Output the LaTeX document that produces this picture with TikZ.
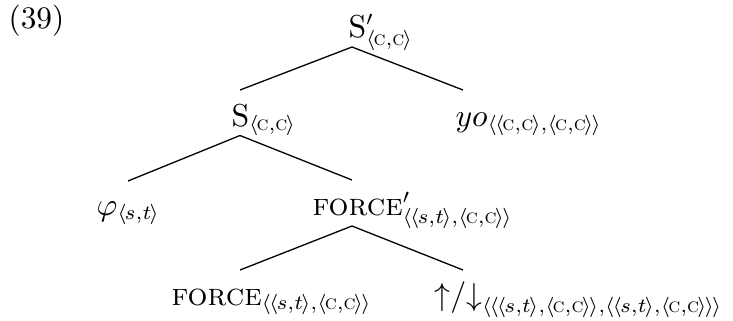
\documentclass[tikz,border=0pt]{standalone}
\usepackage{amsmath,amssymb}
\usepackage{tikz}
\usetikzlibrary{positioning}

\DeclareMathSizes{10.8}{10.8}{7}{5}
\newcommand{\tc}{\textsc{c}}
\newcommand{\la}{\langle\mkern-1.5mu}
\newcommand{\ra}{\mkern-1.5mu\rangle}
\newcommand{\cc}{\la\tc,\tc\ra}
\newcommand{\st}{\la s,t\ra}

\tikzset{
  lbl/.style={inner sep=0pt, anchor=base west, font=\fontsize{10.8}{13}\selectfont},
  branch/.style={line width=0.45pt}
}

\begin{document}
\begin{tikzpicture}[x=0.345pt,y=-0.345pt]
  \useasboundingbox (0,0) rectangle (733,320);
  % example number
  \node[lbl] (num) at (8,28) {(39)};
  % labels
  \node[lbl] (sbar) at (348,37) {$\mathrm{S}'_{\cc}$};
  \node[lbl] (s) at (231,126) {$\mathrm{S}_{\cc}$};
  \node[lbl] (yo) at (455,126) {$yo_{\la\cc,\cc\ra}$};
  \node[lbl] (phi) at (96,215) {$\varphi_{\st}$};
  \node[lbl] (forcebar) at (312,215) {\textsc{force}$'_{\la\st,\cc\ra}$};
  \node[lbl] (force) at (171,305) {\textsc{force}$_{\la\st,\cc\ra}$};
  \node[lbl] (updown) at (434,305) {${\uparrow}/{\downarrow}_{\la\la\st,\cc\ra,\la\st,\cc\ra\ra}$};
  % branch points
  \coordinate (sbar-b) at (352,47);
  \coordinate (s-t) at (240,90);
  \coordinate (yo-t) at (463,90);
  \coordinate (s-b) at (240,135.5);
  \coordinate (phi-t) at (128,181);
  \coordinate (forcebar-t) at (352,180);
  \coordinate (forcebar-b) at (352,226);
  \coordinate (force-t) at (240,270);
  \coordinate (updown-t) at (463,270);
  % branches
  \draw[branch] (s-t) -- (sbar-b) -- (yo-t);
  \draw[branch] (phi-t) -- (s-b) -- (forcebar-t);
  \draw[branch] (force-t) -- (forcebar-b) -- (updown-t);
\end{tikzpicture}
\end{document}
